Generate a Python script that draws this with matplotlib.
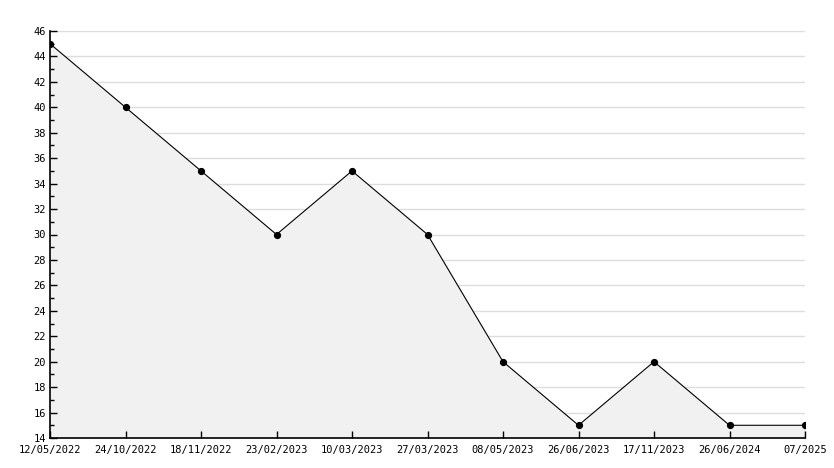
import matplotlib
matplotlib.use("Agg")
import matplotlib.pyplot as plt
from matplotlib.ticker import MultipleLocator

labels = ["12/05/2022", "24/10/2022", "18/11/2022", "23/02/2023", "10/03/2023",
          "27/03/2023", "08/05/2023", "26/06/2023", "17/11/2023", "26/06/2024", "07/2025"]
values = [45, 40, 35, 30, 35, 30, 20, 15, 20, 15, 15]

plt.rcParams['font.family'] = ['DejaVu Sans Mono']
fig = plt.figure(figsize=(8.34, 4.68), dpi=100)
ax = fig.add_axes([50/834, 1-438/468, (805-50)/834, (438-31)/468])

x = list(range(len(values)))
for g in range(16, 47, 2):
    ax.axhline(g, color='#dddddd', lw=1, zorder=0.3)
ax.fill_between(x, values, 14, color='#f1f1f1', lw=0, zorder=1)
ax.plot([x[-1], x[-1]], [14, values[-1]], color='black', lw=0.8, zorder=3)
ax.plot(x, values, color='black', lw=0.8, marker='o', ms=4.2, zorder=4)

ax.set_xlim(0, len(values)-1)
ax.set_ylim(14, 46)
ax.yaxis.set_major_locator(MultipleLocator(2))
ax.yaxis.set_minor_locator(MultipleLocator(1))
ax.set_xticks(x)
ax.set_xticklabels(labels)
for s in ['top', 'right']:
    ax.spines[s].set_visible(False)
for s in ['left', 'bottom']:
    ax.spines[s].set_linewidth(1.2)
    ax.spines[s].set_zorder(5)
ax.tick_params(axis='both', which='major', direction='in', length=5, width=1, labelsize=7.5, pad=3, zorder=5)
ax.tick_params(axis='y', which='minor', direction='in', length=3, width=1)
ax.tick_params(axis='x', pad=5)

fig.savefig("out.png", dpi=100)
